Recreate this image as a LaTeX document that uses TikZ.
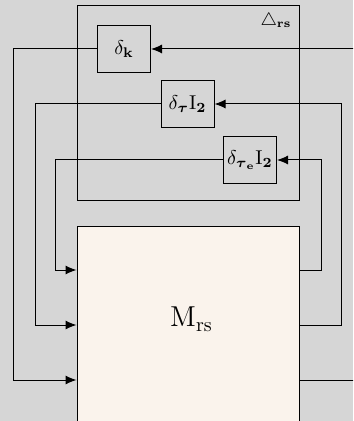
\documentclass[tikz,border=0pt]{standalone}
\usepackage{amsmath}
\usetikzlibrary{arrows.meta}
\begin{document}
\begin{tikzpicture}[x=0.5pt, y=-0.5pt, line width=0.5pt, >={Latex[length=5.5pt,width=4.5pt]},
		blk/.style={draw, minimum width=26.5pt, minimum height=23.5pt, inner sep=0pt}]
		\fill[black!16] (0,0) rectangle (353,421);
		\clip (0,0) rectangle (353,421);

		\node (Delta) [draw, minimum width=111pt, minimum height=97.5pt] at (188,103.5) {};
		\node (Dlabel) at (276,21) {\small $\triangle_{\mathbf{rs}}$};
		\node (deltaK) [blk] at (124,49) {$\delta_{\mathbf{k}}$};
		\node (deltaT) [blk] at (187.5,104) {$\delta_{\boldsymbol{\tau}}\mathrm{I}_{\mathbf{2}}$};
		\node (deltaTe) [blk] at (250,160) {$\delta_{\boldsymbol{\tau}_{\mathbf{e}}}\mathrm{I}_{\mathbf{2}}$};
		\node (Mrs) [draw, fill={rgb,255:red,250;green,243;blue,236}, minimum width=111pt, minimum height=113pt] at (188,340) {};
		\node (Mlabel) at (191.5,319) {\Large $\mathrm{M}_{\mathrm{rs}}$};

		\coordinate (inK) at (360,49);
		\coordinate (outK) at (360,380);
		\coordinate (yK) at (0,380);
		\coordinate (yT) at (0,325);
		\coordinate (yTe) at (0,270);

		\draw[->] (inK) -- (deltaK.east);
		\draw[->] (deltaK.west) -| (13,380) -- (Mrs.west |- yK);
		\draw (Mrs.east |- yK) -- (outK);

		\draw[->] (Mrs.east |- yT) -| (341,104) -- (deltaT.east);
		\draw[->] (deltaT.west) -| (35,325) -- (Mrs.west |- yT);

		\draw[->] (Mrs.east |- yTe) -| (321,160) -- (deltaTe.east);
		\draw[->] (deltaTe.west) -| (55,270) -- (Mrs.west |- yTe);
	\end{tikzpicture}
\end{document}
